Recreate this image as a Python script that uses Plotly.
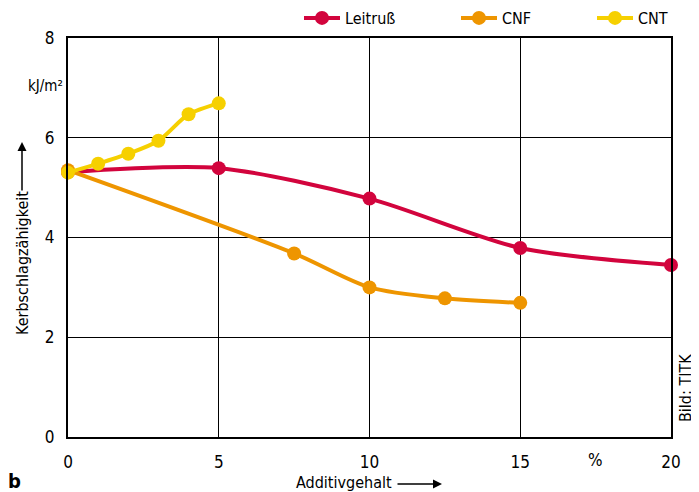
import plotly.graph_objects as go

x_leit = [0, 5, 10, 15, 20]
y_leit = [5.31, 5.39, 4.78, 3.79, 3.45]
x_cnf = [0, 7.5, 10, 12.5, 15]
y_cnf = [5.35, 3.68, 3.0, 2.78, 2.69]
x_cnt = [0, 1, 2, 3, 4, 5]
y_cnt = [5.30, 5.48, 5.68, 5.94, 6.47, 6.69]
x_ticks = [0, 5, 10, 15, 20]
y_ticks = [0, 2, 4, 6, 8]

FONT = "DejaVu Sans Condensed, Liberation Sans, sans-serif"
C_LEIT = "#D2043D"
C_CNF = "#EE9500"
C_CNT = "#F6D000"

OFF = 8  # page body offset
W, H = 699 - OFF, 492 - OFF
# screen-space plot box: x 68..671, y 38..437
L, T = 68 - OFF, 38 - OFF
R = W - (671 - OFF)
B = H - (437 - OFF)
PW, PH = W - L - R, H - T - B

def px(sx, sy):
    return (sx - OFF - L) / PW, 1 - (sy - OFF - T) / PH

fig = go.Figure()
legend_pos = [305, 462, 598]
for i, (name, xs, ys, c) in enumerate([("Leitruß", x_leit, y_leit, C_LEIT),
                                       ("CNF", x_cnf, y_cnf, C_CNF),
                                       ("CNT", x_cnt, y_cnt, C_CNT)]):
    fig.add_trace(go.Scatter(x=xs, y=ys, name=name, mode="lines+markers",
                             line=dict(color=c, width=4, shape="spline", smoothing=0.8),
                             marker=dict(color=c, size=14),
                             cliponaxis=False,
                             legend="legend" if i == 0 else f"legend{i+1}"))

leg_common = dict(orientation="h", xanchor="left", yanchor="middle",
                  font=dict(size=16), itemwidth=36, bgcolor="rgba(0,0,0,0)",
                  borderwidth=0)
legs = {}
for i, xp in enumerate(legend_pos):
    lx, ly = px(xp - 6, 18)
    key = "legend" if i == 0 else f"legend{i+1}"
    legs[key] = dict(x=lx, y=ly, **leg_common)

fig.update_layout(
    width=W, height=H,
    margin=dict(l=L, r=R, t=T, b=B, autoexpand=False),
    paper_bgcolor="white", plot_bgcolor="white",
    font=dict(family=FONT, size=16, color="black"),
    showlegend=True,
    xaxis=dict(range=[0, 20], tickvals=x_ticks, ticktext=[str(v) for v in x_ticks],
               showgrid=True, gridcolor="black", gridwidth=1, zeroline=False,
               showline=True, linecolor="black", linewidth=2, mirror=True,
               ticks="", ticklen=0, tickfont=dict(size=17), ticklabelstandoff=9),
    yaxis=dict(range=[0, 8], tickvals=y_ticks, ticktext=[str(v) for v in y_ticks],
               showgrid=True, gridcolor="black", gridwidth=1, zeroline=False,
               showline=True, linecolor="black", linewidth=2, mirror=True,
               ticks="", ticklen=0, tickfont=dict(size=17), ticklabelstandoff=8),
    **legs,
)

anns = [
    dict(text="kJ/m²", x=45, y=86, font=dict(size=15)),
    dict(text="<b>b</b>", x=14, y=481, font=dict(size=20)),
    dict(text="Additivgehalt", x=344, y=482, font=dict(size=16)),
    dict(text="Kerbschlagzähigkeit", x=22, y=263, textangle=-90, font=dict(size=16)),
    dict(text="Bild: TITK", x=685, y=388, textangle=-90, font=dict(size=16)),
]
for a in anns:
    a["x"], a["y"] = px(a["x"], a["y"])
    fig.add_annotation(xref="paper", yref="paper", showarrow=False,
                       xanchor="center", yanchor="middle", **a)

fig.add_annotation(text="%", x=17.5, y=0, xref="x", yref="y", yshift=-23,
                   xanchor="center", yanchor="middle",
                   showarrow=False, font=dict(size=17))

for (x0, y0, x1, y1) in [(22, 192, 22, 142), (396, 484, 442, 484)]:
    hx, hy = px(x1, y1)
    fig.add_annotation(x=hx, y=hy, ax=x0 - x1, ay=y0 - y1, xref="paper", yref="paper",
                       axref="pixel", ayref="pixel", text="", showarrow=True,
                       arrowhead=2, arrowsize=1.2, arrowwidth=1.5, arrowcolor="black")

fig.write_html("out.html")
